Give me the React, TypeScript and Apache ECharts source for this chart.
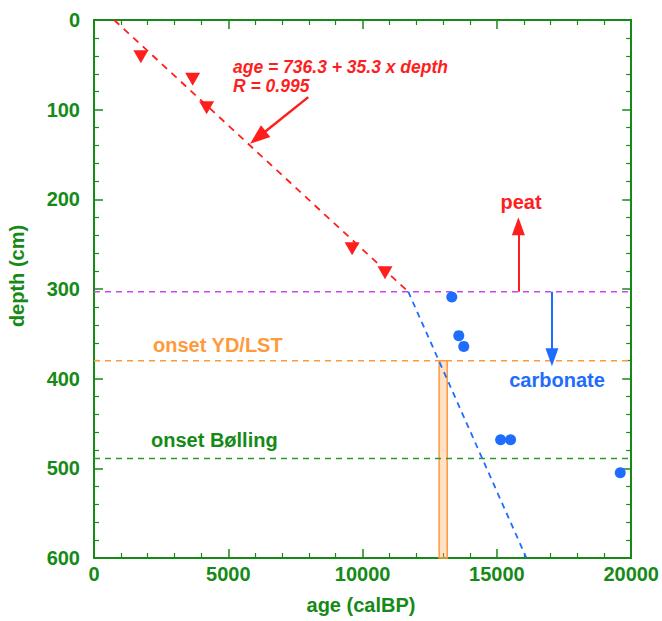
import React, { useEffect, useRef } from "react";
import * as echarts from "echarts";

// radiocarbon dates on peat (age calBP, depth cm)
const peatAges = [1744, 3673, 4193, 9610, 10835];
const peatDepths = [41, 66, 98, 255, 282];
// dates on carbonate
const carbAges = [13321, 13581, 13766, 15139, 15510, 19592];
const carbDepths = [309, 352, 364, 468, 468, 505];
// age-depth model segments [age, depth]
const regressionLine = [[750, 0], [11700, 303]];
const carbonateLine = [[11700, 303], [16100, 600]];
// horizons (depth cm)
const peatCarbonateDepth = 303;
const onsetYDDepth = 380;
const onsetBollingDepth = 489;
// onset YD age band
const ydBand = [12850, 13150];
// arrows [age, depth]
const regressionArrow = [[7978, 86], [6100, 131]];
const peatArrow = [[15800, 303], [15800, 230]];
const carbArrow = [[17050, 303], [17050, 376]];
// axes
const xTicks = [0, 5000, 10000, 15000, 20000];
const yTicks = [0, 100, 200, 300, 400, 500, 600];

const GREEN = "#168a16";
const RED = "#ff1e1e";
const BLUE = "#1f6dff";
const ORANGE = "#ff9a3c";
const PURPLE = "#cc44ee";
const FONT = "'Liberation Sans', Arial, Helvetica, sans-serif";

export default function App() {
  const ref = useRef<HTMLDivElement>(null);
  useEffect(() => {
    if (!ref.current) return;
    const chart = echarts.init(ref.current, null, { renderer: "svg" });
    const axisCommon = (show: boolean) => ({
      axisLine: { show: true, onZero: false, lineStyle: { color: GREEN, width: 2 } },
      axisTick: { show: true, inside: true, length: 9, lineStyle: { color: GREEN, width: 1.5 } },
      minorTick: { show: true, splitNumber: 5, length: 5, lineStyle: { color: GREEN, width: 1.2 } },
      splitLine: { show: false },
      axisLabel: {
        show,
        color: GREEN,
        fontFamily: FONT,
        fontWeight: "bold",
        fontSize: 20,
      },
    });
    const xAx = (pos: string, show: boolean) => {
      const c: any = axisCommon(show);
      c.axisLabel.margin = 6;
      c.axisLabel.showMaxLabel = true;
      c.axisLabel.formatter = (v: number) => (xTicks.includes(v) ? String(v) : "");
      return { type: "value", position: pos, min: xTicks[0], max: xTicks[xTicks.length - 1], interval: 5000, ...c };
    };
    const yAx = (pos: string, show: boolean) => {
      const c: any = axisCommon(show);
      c.axisLabel.margin = 14;
      c.axisLabel.formatter = (v: number) => (yTicks.includes(v) ? String(v) : "");
      return { type: "value", position: pos, inverse: true, min: yTicks[0], max: yTicks[yTicks.length - 1], interval: 100, ...c };
    };
    const hLine = (depth: number, color: string) => ({
      type: "line",
      data: [[0, depth], [20000, depth]],
      symbol: "none",
      silent: true,
      lineStyle: { color, width: 1.5, type: [6, 5] },
      z: 3,
    });
    const arrow = (pts: number[][], color: string, width: number, size: number[]) => ({
      type: "line",
      data: [],
      silent: true,
      markLine: {
        silent: true,
        symbol: ["none", "triangle"],
        symbolSize: size,
        label: { show: false },
        itemStyle: { color },
        lineStyle: { color, width, type: "solid" },
        data: [[{ coord: pts[0] }, { coord: pts[1] }]],
      },
      z: 6,
    });
    const txt = (text: string, x: number, y: number, fill: string, extra: any = {}) => ({
      type: "text",
      x,
      y,
      style: {
        text,
        fill,
        fontFamily: FONT,
        fontWeight: "bold",
        fontSize: 20,
        align: "left",
        verticalAlign: "middle",
        ...extra,
      },
    });
    chart.setOption({
      animation: false,
      grid: { left: 94, right: 29, top: 20, bottom: 63 },
      xAxis: [xAx("bottom", true), xAx("top", false)],
      yAxis: [yAx("left", true), yAx("right", false)],
      series: [
        {
          type: "line",
          data: [],
          silent: true,
          markArea: {
            silent: true,
            itemStyle: { color: "rgba(255,170,100,0.35)", borderColor: ORANGE, borderWidth: 1.5 },
            data: [[{ coord: [ydBand[0], onsetYDDepth] }, { coord: [ydBand[1], 600] }]],
          },
          z: 2,
        },
        hLine(peatCarbonateDepth, PURPLE),
        hLine(onsetYDDepth, ORANGE),
        hLine(onsetBollingDepth, "#2a9a2a"),
        {
          type: "line",
          data: regressionLine,
          symbol: "none",
          silent: true,
          lineStyle: { color: RED, width: 1.8, type: [7, 6] },
          z: 4,
        },
        {
          type: "line",
          data: carbonateLine,
          symbol: "none",
          silent: true,
          lineStyle: { color: BLUE, width: 1.8, type: [6, 5] },
          z: 4,
        },
        {
          type: "scatter",
          data: peatAges.map((a, i) => [a, peatDepths[i]]),
          symbol: "triangle",
          symbolRotate: 180,
          symbolSize: [15, 13],
          itemStyle: { color: RED, opacity: 1 },
          z: 5,
        },
        {
          type: "scatter",
          data: carbAges.map((a, i) => [a, carbDepths[i]]),
          symbol: "circle",
          symbolSize: 11,
          itemStyle: { color: BLUE, opacity: 1 },
          z: 5,
        },
        arrow(regressionArrow, RED, 2.5, [15, 20]),
        arrow(peatArrow, RED, 2, [13, 18]),
        arrow(carbArrow, BLUE, 2, [13, 18]),
      ],
      graphic: [
        txt("age = 736.3 + 35.3 x depth", 233, 67, RED, { fontStyle: "italic", fontSize: 17.5 }),
        txt("R = 0.995", 233, 86, RED, { fontStyle: "italic", fontSize: 17.5 }),
        txt("peat", 521, 202, RED, { align: "center" }),
        txt("carbonate", 557, 380, BLUE, { align: "center" }),
        txt("onset YD/LST", 153, 345, ORANGE),
        txt("onset Bølling", 151, 440, GREEN),
        txt("age (calBP)", 361, 605, GREEN, { align: "center" }),
        { ...txt("depth (cm)", 17, 276, GREEN, { align: "center" }), rotation: Math.PI / 2 },
      ],
    });
    return () => chart.dispose();
  }, []);
  return (
    <div
      ref={ref}
      style={{ position: "absolute", left: 0, top: 0, width: 662, height: 621, background: "#fff" }}
    />
  );
}
